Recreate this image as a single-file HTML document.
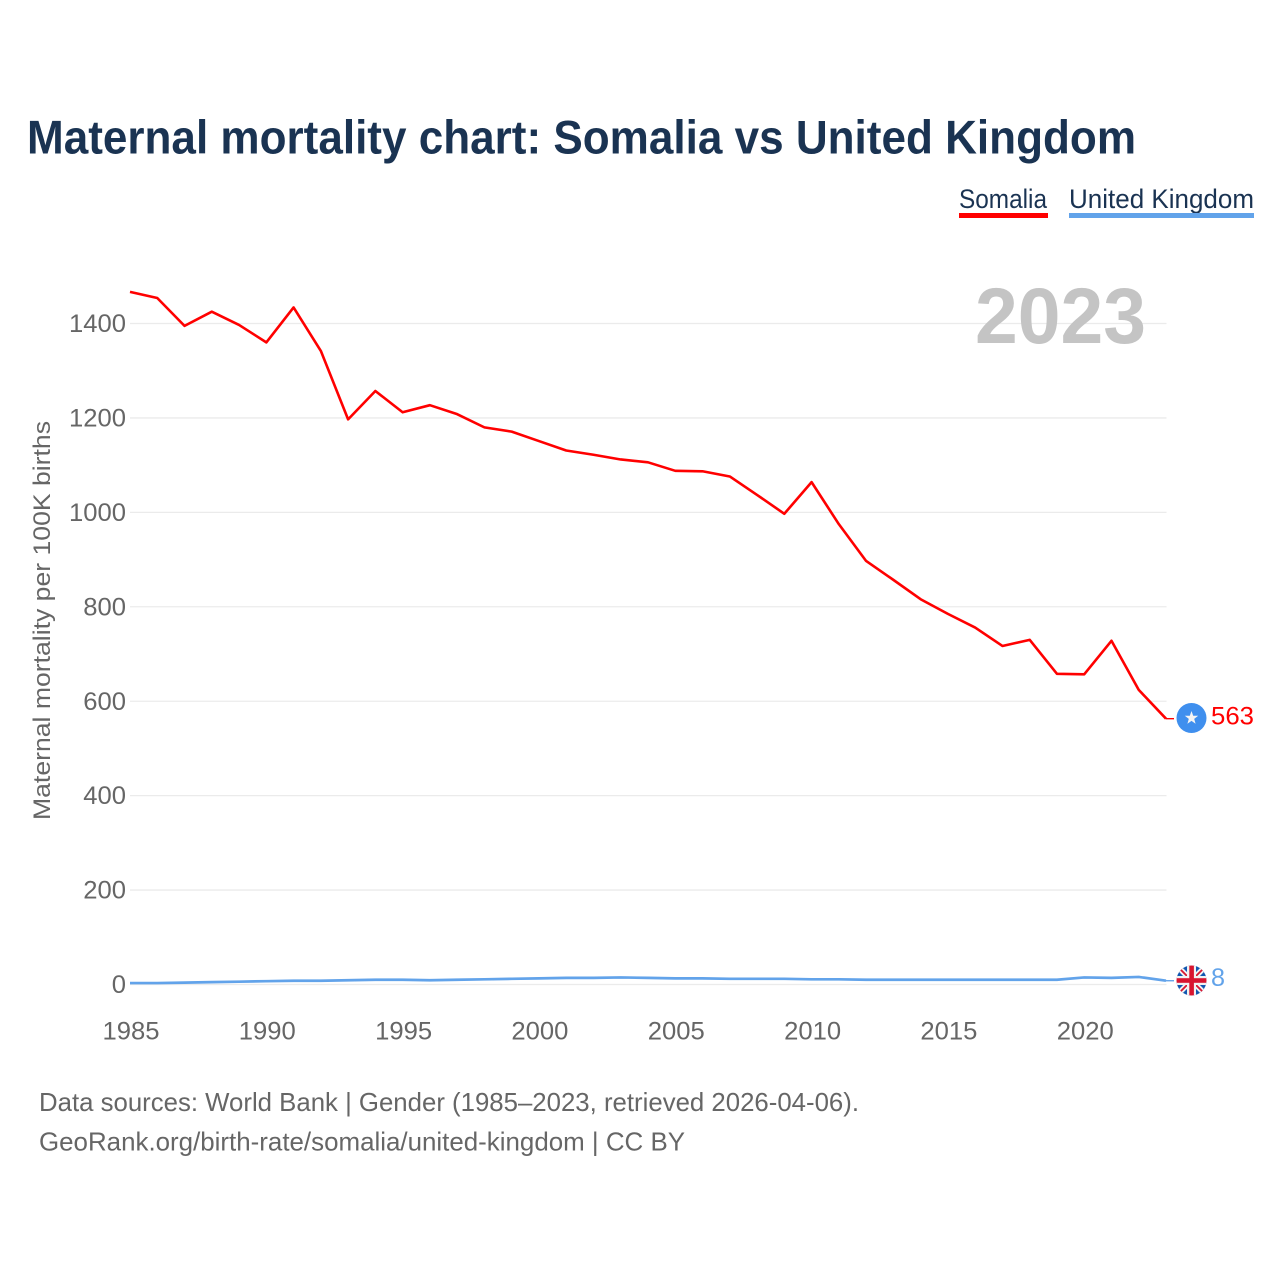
<!DOCTYPE html>
<html lang="en">
<head>
<meta charset="utf-8">
<title>Maternal mortality chart: Somalia vs United Kingdom</title>
<style>
  html, body { margin: 0; padding: 0; background: #fff; }
  svg { display: block; font-family: "Liberation Sans", sans-serif; }
</style>
</head>
<body>
<svg id="chart" width="1280" height="1280" viewBox="0 0 1280 1280" xmlns="http://www.w3.org/2000/svg">
  <defs>
    <clipPath id="uk-clip"><circle cx="1191.5" cy="980.5" r="15"></circle></clipPath>
  </defs>

  <text x="27" y="153.5" font-size="47" font-weight="700" fill="#1a3352" textLength="1109" lengthAdjust="spacingAndGlyphs">Maternal mortality chart: Somalia vs United Kingdom</text>

  <g>
    <g>
      <text x="959" y="208" font-size="26.5" fill="#1a3352" textLength="88" lengthAdjust="spacingAndGlyphs">Somalia</text>
      <rect x="959" y="213" width="89" height="5" fill="#ff0000"></rect>
    </g>
    <g>
      <text x="1069" y="208" font-size="26.5" fill="#1a3352" textLength="185" lengthAdjust="spacingAndGlyphs">United Kingdom</text>
      <rect x="1069" y="213" width="185" height="5" fill="#62a3ea"></rect>
    </g>
  </g>

  <g id="grid"></g>

  <text x="975" y="343" font-size="79" font-weight="700" fill="#c4c4c4" textLength="171" lengthAdjust="spacingAndGlyphs">2023</text>

  <g id="y-axis"></g>
  <g id="x-axis"></g>

  <text transform="translate(50 620.5) rotate(-90)" text-anchor="middle" font-size="24.5" fill="#666666" textLength="399" lengthAdjust="spacingAndGlyphs">Maternal mortality per 100K births</text>

  <g id="series"></g>

  <g id="somalia-end">
    <circle cx="1191.5" cy="718" r="15" fill="#3f8fee"></circle>
    <polygon points="1191.5,711 1193.2,715.7 1198.2,715.8 1194.2,718.9 1195.6,723.7 1191.5,720.9 1187.4,723.7 1188.8,718.9 1184.8,715.8 1189.8,715.7" fill="#f4f4f4"></polygon>
  </g>

  <g clip-path="url(#uk-clip)">
    <rect x="1176" y="965" width="31" height="31" fill="#1257b0"></rect>
    <path d="M1176 965 L1207 996 M1207 965 L1176 996" stroke="#f2f2f2" stroke-width="5.5"></path>
    <path d="M1176 965 L1207 996 M1207 965 L1176 996" stroke="#d8152f" stroke-width="1.8"></path>
    <rect x="1187" y="965" width="9" height="31" fill="#f2f2f2"></rect>
    <rect x="1176" y="976" width="31" height="9" fill="#f2f2f2"></rect>
    <rect x="1189.3" y="965" width="4.6" height="31" fill="#d8152f"></rect>
    <rect x="1176" y="978.2" width="31" height="4.6" fill="#d8152f"></rect>
  </g>

  <text x="39" y="1111" font-size="26" fill="#666666" textLength="820" lengthAdjust="spacingAndGlyphs">Data sources: World Bank | Gender (1985–2023, retrieved 2026-04-06).</text>
  <text x="39" y="1150.5" font-size="26" fill="#666666" textLength="646" lengthAdjust="spacingAndGlyphs">GeoRank.org/birth-rate/somalia/united-kingdom | CC BY</text>
</svg>

<script>
const years = [1985,1986,1987,1988,1989,1990,1991,1992,1993,1994,1995,1996,1997,1998,1999,2000,2001,2002,2003,2004,2005,2006,2007,2008,2009,2010,2011,2012,2013,2014,2015,2016,2017,2018,2019,2020,2021,2022,2023];
const somaliaValues = [1467,1454,1395,1425,1397,1360,1434,1342,1197,1257,1212,1227,1208,1180,1171,1151,1131,1122,1112,1106,1088,1087,1076,1037,997,1064,975,897,857,816,785,756,717,730,658,657,728,624,563];
const ukValues = [3,3,4,5,6,7,8,8,9,10,10,9,10,11,12,13,14,14,15,14,13,13,12,12,12,11,11,10,10,10,10,10,10,10,10,15,14,16,8];
const yTicks = [0,200,400,600,800,1000,1200,1400];
const xTicks = [1985,1990,1995,2000,2005,2010,2015,2020];

const SVG_NS = 'http://www.w3.org/2000/svg';
function xScale(year) { return 130 + (year - 1985) * (1166 - 130) / (2023 - 1985); }
function yScale(value) { return 984.5 - value * (984.5 - 323.5) / 1400; }

const gridLayer = document.getElementById('grid');
const yAxisLayer = document.getElementById('y-axis');
const xAxisLayer = document.getElementById('x-axis');
const seriesLayer = document.getElementById('series');
const chartRoot = document.getElementById('chart');

yTicks.forEach(function (tick) {
  const line = document.createElementNS(SVG_NS, 'line');
  
  
  line.setAttribute('x1', 130);
  line.setAttribute('x2', 1166.5);
  line.setAttribute('y1', yScale(tick));
  line.setAttribute('y2', yScale(tick));
  line.setAttribute('stroke', '#ebebeb');
  line.setAttribute('stroke-width', '1.3');
  gridLayer.appendChild(line);

  const label = document.createElementNS(SVG_NS, 'text');
  
  
  label.setAttribute('x', 126);
  label.setAttribute('y', yScale(tick) + 8.6);
  label.setAttribute('text-anchor', 'end');
  label.setAttribute('font-size', '24.6');
  label.setAttribute('fill', '#666666');
  label.setAttribute('textLength', String(tick).length * 14.25);
  label.setAttribute('lengthAdjust', 'spacingAndGlyphs');
  label.textContent = tick;
  yAxisLayer.appendChild(label);
});

xTicks.forEach(function (tick) {
  const label = document.createElementNS(SVG_NS, 'text');
  
  
  label.setAttribute('x', xScale(tick) + 1);
  label.setAttribute('y', 1039.5);
  label.setAttribute('text-anchor', 'middle');
  label.setAttribute('font-size', '24.6');
  label.setAttribute('fill', '#666666');
  label.setAttribute('textLength', 57);
  label.setAttribute('lengthAdjust', 'spacingAndGlyphs');
  label.textContent = tick;
  xAxisLayer.appendChild(label);
});

function linePoints(values) {
  return values.map(function (value, i) {
    return xScale(years[i]).toFixed(2) + ',' + yScale(value).toFixed(2);
  }).join(' ');
}

const ukLine = document.createElementNS(SVG_NS, 'polyline');


ukLine.setAttribute('points', linePoints(ukValues));
ukLine.setAttribute('fill', 'none');
ukLine.setAttribute('stroke', '#62a3ea');
ukLine.setAttribute('stroke-width', '2.7');
ukLine.setAttribute('stroke-linejoin', 'round');
seriesLayer.appendChild(ukLine);

const somaliaLine = document.createElementNS(SVG_NS, 'polyline');


somaliaLine.setAttribute('points', linePoints(somaliaValues));
somaliaLine.setAttribute('fill', 'none');
somaliaLine.setAttribute('stroke', '#ff0000');
somaliaLine.setAttribute('stroke-width', '2.6');
somaliaLine.setAttribute('stroke-linejoin', 'round');
seriesLayer.appendChild(somaliaLine);

const lastIndex = years.length - 1;

const somaliaStub = document.createElementNS(SVG_NS, 'line');


somaliaStub.setAttribute('x1', xScale(years[lastIndex]));
somaliaStub.setAttribute('x2', 1174);
somaliaStub.setAttribute('y1', yScale(somaliaValues[lastIndex]));
somaliaStub.setAttribute('y2', yScale(somaliaValues[lastIndex]));
somaliaStub.setAttribute('stroke', '#ff0000');
somaliaStub.setAttribute('stroke-width', '1.4');
seriesLayer.appendChild(somaliaStub);

const ukStub = document.createElementNS(SVG_NS, 'line');


ukStub.setAttribute('x1', xScale(years[lastIndex]));
ukStub.setAttribute('x2', 1174);
ukStub.setAttribute('y1', yScale(ukValues[lastIndex]));
ukStub.setAttribute('y2', yScale(ukValues[lastIndex]));
ukStub.setAttribute('stroke', '#62a3ea');
ukStub.setAttribute('stroke-width', '1.4');
seriesLayer.appendChild(ukStub);

const somaliaValueLabel = document.createElementNS(SVG_NS, 'text');


somaliaValueLabel.setAttribute('x', 1211);
somaliaValueLabel.setAttribute('y', 724.5);
somaliaValueLabel.setAttribute('font-size', '25');
somaliaValueLabel.setAttribute('fill', '#ff0000');
somaliaValueLabel.setAttribute('textLength', 43);
somaliaValueLabel.setAttribute('lengthAdjust', 'spacingAndGlyphs');
somaliaValueLabel.textContent = somaliaValues[lastIndex];
chartRoot.appendChild(somaliaValueLabel);

const ukValueLabel = document.createElementNS(SVG_NS, 'text');


ukValueLabel.setAttribute('x', 1211);
ukValueLabel.setAttribute('y', 986);
ukValueLabel.setAttribute('font-size', '25');
ukValueLabel.setAttribute('fill', '#62a3ea');
ukValueLabel.setAttribute('textLength', 14);
ukValueLabel.setAttribute('lengthAdjust', 'spacingAndGlyphs');
ukValueLabel.textContent = ukValues[lastIndex];
chartRoot.appendChild(ukValueLabel);
</script>
</body>
</html>
